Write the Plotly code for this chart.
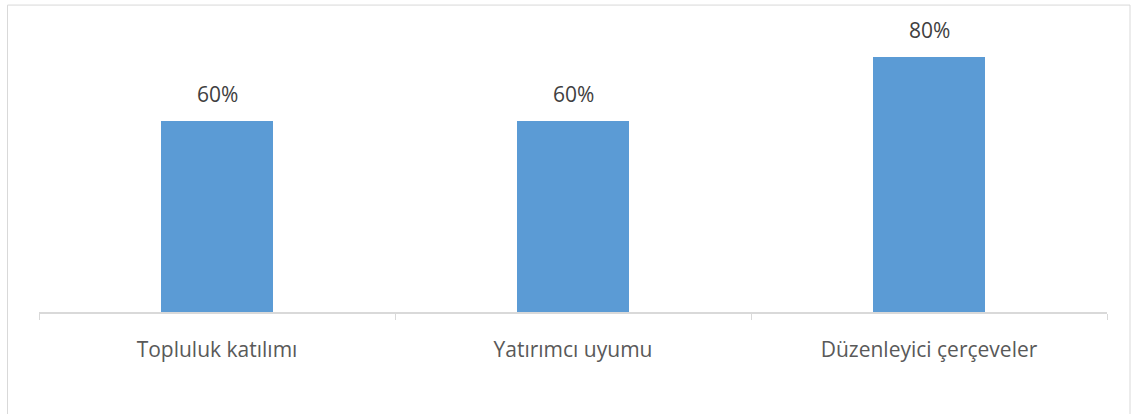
import plotly.graph_objects as go

categories = ["Topluluk katılımı", "Yatırımcı uyumu", "Düzenleyici çerçeveler"]
values = [0.60, 0.60, 0.80]
labels = ["60%", "60%", "80%"]

W, H = 1132, 414
plot_left, plot_right = 39, 1107
plot_top, plot_bottom = 25.4, 312
ymax = 0.9

fig = go.Figure()
fig.add_trace(go.Bar(
    x=categories, y=values,
    marker=dict(color="#5B9BD5", line=dict(width=0)),
    width=0.315,
    hoverinfo="skip",
))

for c, v, t in zip(categories, values, labels):
    fig.add_annotation(x=c, y=v, text=t, showarrow=False, yanchor="bottom",
                       yshift=11, font=dict(family="Open Sans", size=21, color="#404040"))

pw = plot_right - plot_left
ph = plot_bottom - plot_top
fig.add_shape(type="rect", xref="paper", yref="paper",
              x0=(7.5 - plot_left) / pw, x1=(1130 - plot_left) / pw,
              y0=(plot_bottom - 430) / ph, y1=(plot_bottom - 5.5) / ph,
              line=dict(color="#D9D9D9", width=1), fillcolor="rgba(0,0,0,0)", layer="below")

fig.update_layout(
    width=W, height=H,
    margin=dict(l=plot_left, r=W - plot_right, t=plot_top, b=H - plot_bottom, pad=0),
    paper_bgcolor="white", plot_bgcolor="white",
    showlegend=False,
    bargap=0,
    xaxis=dict(
        showline=True, linecolor="#D9D9D9", linewidth=2,
        ticks="outside", tickson="boundaries", ticklen=6, tickcolor="#D9D9D9", tickwidth=1,
        tickfont=dict(family="Open Sans", size=21, color="#595959"),
        ticklabelstandoff=18,
        showgrid=False, zeroline=False, fixedrange=True,
    ),
    yaxis=dict(range=[0, ymax], visible=False, showgrid=False, zeroline=False, fixedrange=True),
)

fig.write_html("out.html", config={"displayModeBar": False},
               post_script="document.body.style.margin='0';document.body.style.overflow='hidden';")
